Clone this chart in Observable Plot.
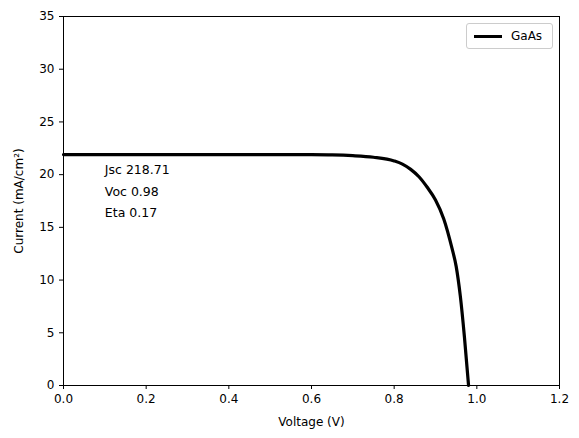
<!DOCTYPE html>
<html><head><meta charset="utf-8">
<script src="https://cdn.jsdelivr.net/npm/d3@7"></script>
<script src="https://cdn.jsdelivr.net/npm/@observablehq/plot@0.6"></script>
<style>
body{margin:0;background:#fff;font-family:"DejaVu Sans",sans-serif;}
#wrap{position:relative;width:579px;height:438px;}
#legend{position:absolute;left:466px;top:23px;width:85px;height:24px;border:1px solid #ccc;border-radius:3px;background:#fff;font-size:12px;display:flex;align-items:center;}
#legend span.l{display:inline-block;width:28px;height:3px;background:#000;margin:0 9px 0 7px;}
</style></head><body>
<div id="wrap"><div id="chart"></div><div id="legend"><span class="l"></span>GaAs</div></div>
<script>
const voltage = [0,0.1,0.2,0.3,0.4,0.5,0.6,0.65,0.7,0.75,0.8,0.82,0.84,0.86,0.88,0.9,0.92,0.94,0.95,0.96,0.97,0.98];
const current = [21.9,21.9,21.9,21.9,21.9,21.9,21.89,21.87,21.8,21.65,21.3,21.0,20.5,19.8,18.8,17.6,15.8,13.0,11.3,8.5,4.6,0];
const notes = ["Jsc 218.71","Voc 0.98","Eta 0.17"];
const noteY = [20.4,18.4,16.4];
const data = voltage.map((v,i)=>({v,i:current[i]}));
const chart = Plot.plot({
  width:579,height:438,marginLeft:63,marginRight:20,marginTop:16,marginBottom:53,
  style:{fontFamily:"DejaVu Sans",fontSize:"12px",color:"#000"},
  x:{domain:[0,1.2]},
  y:{domain:[0,35]},
  marks:[
    Plot.frame({stroke:"#000"}),
    Plot.axisX({ticks:d3.range(0,1.21,0.2),tickFormat:d3.format(".1f"),tickSize:4,fontSize:12,label:"Voltage (V)",labelAnchor:"center",labelArrow:"none",labelOffset:40}),
    Plot.axisY({ticks:d3.range(0,36,5),tickSize:4,fontSize:12,label:"Current (mA/cm²)",labelAnchor:"center",labelArrow:"none",labelOffset:49}),
    Plot.line(data,{x:"v",y:"i",stroke:"#000",strokeWidth:3.2,curve:"monotone-x"}),
    Plot.text(notes,{x:()=>0.1,y:(d,k)=>noteY[k],text:d=>d,textAnchor:"start",fontSize:12.5,fill:"#000"})
  ]
});
d3.select('#chart').append(()=>chart);
</script></body></html>
